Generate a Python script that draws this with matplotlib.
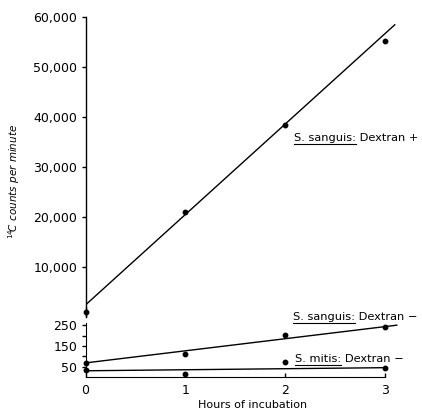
import matplotlib
matplotlib.use('Agg')
import matplotlib.pyplot as plt
from matplotlib.ticker import FuncFormatter
from matplotlib.lines import Line2D

hours = [0, 1, 2, 3]
dex_plus = [1000, 20900, 38300, 55100]
dex_plus_err = [1000, 0, 0, 0]
sang_minus = [68, 111, 205, 242]
mitis_minus = [34, 14, 74, 42]

# fitted lines: (hours at ends, counts at ends)
fit_plus_h = [0, 3.1]
fit_plus = [2400, 58400]
fit_sang_h = [0, 3.12]
fit_sang = [68, 250]
fit_mitis_h = [0, 3.0]
fit_mitis = [30, 45]

upper_ticks = [10000, 20000, 30000, 40000, 50000, 60000]
lower_ticks = [50, 150, 250]
lower_minor = [100, 200]
x_ticks = [0, 1, 2, 3]

labels = [
    # (axis index, x, y, underlined part, rest)
    (0, 2.09, 35800, 'S. sanguis:', ' Dextran +'),
    (1, 2.08, 290, 'S. sanguis:', ' Dextran \u2212'),
    (1, 2.10, 88, 'S. mitis:', ' Dextran \u2212'),
]

plt.rcParams['font.family'] = 'DejaVu Sans'

fig = plt.figure(figsize=(4.22, 4.09), dpi=100)
left = 85.5 / 422
width = 0.792
ax1 = fig.add_axes([left, 0.225, width, 0.734])
ax2 = fig.add_axes([left, 32 / 409, width, 54.3 / 409])

# upper panel
ax1.plot(fit_plus_h, fit_plus, color='black', lw=1)
ax1.errorbar(hours, dex_plus, yerr=dex_plus_err, fmt='o', color='black',
             ms=3.2, capsize=0, elinewidth=1, clip_on=False, zorder=3)
ax1.set_xlim(0, 3.35)
ax1.set_ylim(0, 60000)
ax1.set_yticks(upper_ticks)
ax1.yaxis.set_major_formatter(FuncFormatter(lambda v, p: '{:,.0f}'.format(v)))
for s in ['top', 'right', 'bottom']:
    ax1.spines[s].set_visible(False)
ax1.spines['left'].set_linewidth(1)
ax1.tick_params(axis='x', bottom=False, labelbottom=False)
ax1.tick_params(axis='y', direction='out', length=3, width=1, pad=3, labelsize=9)
ax1.set_ylabel('$^{14}\\!$C counts per minute', fontsize=7.5, style='italic',
               labelpad=2)
ax1.yaxis.set_label_coords(-0.19, 0.453)

# lower panel
ax2.plot(fit_sang_h, fit_sang, color='black', lw=1)
ax2.plot(fit_mitis_h, fit_mitis, color='black', lw=1)
ax2.plot(hours, sang_minus, 'o', color='black', ms=3.2, clip_on=False, zorder=3)
ax2.plot(hours, mitis_minus, 'o', color='black', ms=3.2, clip_on=False, zorder=3)
ax2.set_xlim(0, 3.35)
ax2.set_ylim(0, 262)
ax2.set_yticks(lower_ticks)
ax2.set_yticks(lower_minor, minor=True)
ax2.set_xticks(x_ticks)
for s in ['top', 'right']:
    ax2.spines[s].set_visible(False)
ax2.spines['bottom'].set_bounds(0, 3)
ax2.tick_params(axis='y', which='both', direction='out', length=3, width=1,
                pad=3, labelsize=9)
ax2.tick_params(axis='x', direction='in', length=3, width=1, pad=5, labelsize=9)
ax2.set_xlabel('Hours of incubation', fontsize=8, labelpad=2)

# curve labels with underlined species names
measure = []
for i, x, y, part, rest in labels:
    ax = [ax1, ax2][i]
    ax.text(x, y, part + rest, fontsize=8.2, ha='left', va='center')
    m = ax.text(x, y, part, fontsize=8.2, ha='left', va='center', alpha=0)
    measure.append(m)

fig.canvas.draw()
r = fig.canvas.get_renderer()
inv = fig.transFigure.inverted()
for m in measure:
    bb = m.get_window_extent(r)
    (x0, y0), (x1, _) = inv.transform([(bb.x0, bb.y0 - 1), (bb.x1, bb.y0)])
    fig.add_artist(Line2D([x0, x1], [y0, y0], transform=fig.transFigure,
                          color='black', lw=0.8))

fig.savefig('out.png', dpi=100)
